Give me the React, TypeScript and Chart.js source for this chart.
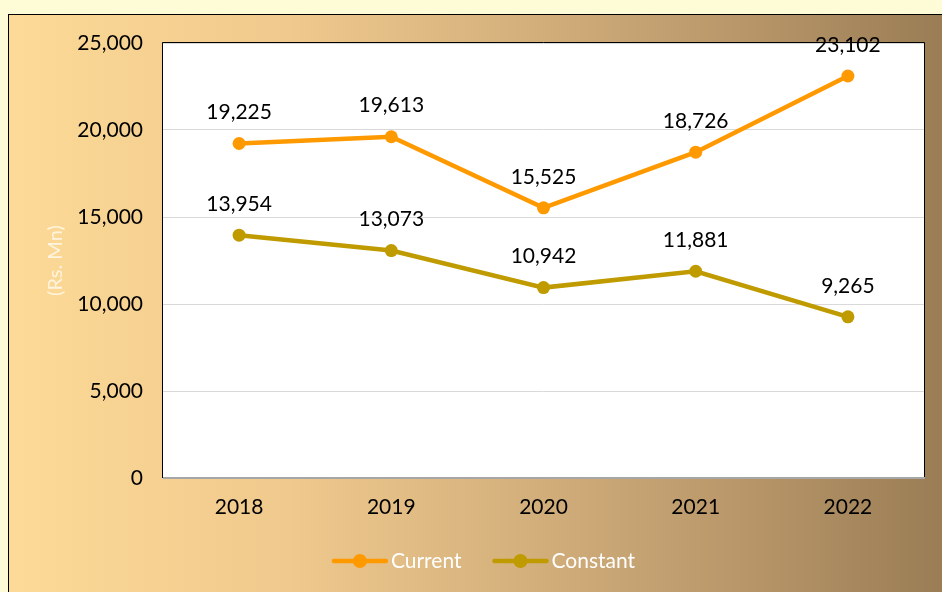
import React, { useEffect, useRef } from 'react';
import { Chart, registerables } from 'chart.js';

Chart.register(...registerables);

const categories = ['2018', '2019', '2020', '2021', '2022'];
const currentValues = [19225, 19613, 15525, 18726, 23102];
const constantValues = [13954, 13073, 10942, 11881, 9265];
const seriesNames = ['Current', 'Constant'];
const seriesColors = ['#FF9900', '#BF9B00'];
const yMin = 0;
const yMax = 25000;
const yStep = 5000;
const yTitle = '(Rs. Mn)';

const FONT = 'Lato';
const fmt = (v: number) => Math.round(v).toLocaleString('en-US');

const plotBg = {
  id: 'plotBg',
  beforeDraw(chart: any) {
    const { ctx, chartArea: a } = chart;
    ctx.save();
    ctx.fillStyle = '#FFFFFF';
    ctx.fillRect(a.left, a.top, a.right - a.left, a.bottom - a.top);
    ctx.restore();
  },
  beforeDatasetsDraw(chart: any) {
    const { ctx, chartArea: a } = chart;
    ctx.save();
    ctx.lineWidth = 1;
    ctx.strokeStyle = '#000000';
    ctx.beginPath();
    ctx.moveTo(a.left - 0.5, a.bottom);
    ctx.lineTo(a.left - 0.5, a.top - 0.5);
    ctx.lineTo(a.right + 0.5, a.top - 0.5);
    ctx.lineTo(a.right + 0.5, a.bottom);
    ctx.stroke();
    ctx.strokeStyle = '#A6A6A6';
    ctx.lineWidth = 2;
    ctx.beginPath();
    ctx.moveTo(a.left, a.bottom);
    ctx.lineTo(a.right + 1, a.bottom);
    ctx.stroke();
    ctx.restore();
  },
};

const dataLabels = {
  id: 'dataLabels',
  afterDatasetsDraw(chart: any) {
    const { ctx } = chart;
    ctx.save();
    ctx.font = `21px ${FONT}`;
    ctx.fillStyle = '#000000';
    ctx.textAlign = 'center';
    ctx.textBaseline = 'middle';
    chart.data.datasets.forEach((ds: any, i: number) => {
      const meta = chart.getDatasetMeta(i);
      meta.data.forEach((pt: any, j: number) => {
        ctx.fillText(fmt(ds.data[j]), pt.x, pt.y - 31);
      });
    });
    ctx.restore();
  },
};

const lineLegend = {
  id: 'lineLegend',
  afterDraw(chart: any) {
    const { ctx } = chart;
    const lineW = 56;
    const textGap = 3;
    const itemGap = 31;
    ctx.save();
    ctx.font = `21px ${FONT}`;
    const items = chart.data.datasets.map((ds: any) => ({
      label: ds.label,
      color: ds.borderColor,
      tw: ctx.measureText(ds.label).width,
    }));
    const total = items.reduce((s: number, it: any) => s + lineW + textGap + it.tw, 0) + itemGap * (items.length - 1);
    let x = chart.width / 2 + 8 - total / 2;
    const y = 546;
    items.forEach((it: any) => {
      ctx.strokeStyle = it.color;
      ctx.lineWidth = 4.5;
      ctx.lineCap = 'round';
      ctx.beginPath();
      ctx.moveTo(x + 2, y);
      ctx.lineTo(x + lineW - 2, y);
      ctx.stroke();
      ctx.fillStyle = it.color;
      ctx.beginPath();
      ctx.arc(x + lineW / 2, y, 7, 0, Math.PI * 2);
      ctx.fill();
      ctx.fillStyle = '#FFFFFF';
      ctx.textAlign = 'left';
      ctx.textBaseline = 'middle';
      ctx.fillText(it.label, x + lineW + textGap, y);
      x += lineW + textGap + it.tw + itemGap;
    });
    ctx.restore();
  },
};

export default function App() {
  const ref = useRef<HTMLCanvasElement | null>(null);

  useEffect(() => {
    if (!ref.current) return;
    const chart = new Chart(ref.current, {
      type: 'line',
      data: {
        labels: categories,
        datasets: [
          {
            label: seriesNames[0],
            data: currentValues,
            borderColor: seriesColors[0],
            backgroundColor: seriesColors[0],
            borderWidth: 4.5,
            pointRadius: 6.5,
            pointBorderWidth: 0,
            tension: 0,
          },
          {
            label: seriesNames[1],
            data: constantValues,
            borderColor: seriesColors[1],
            backgroundColor: seriesColors[1],
            borderWidth: 4.5,
            pointRadius: 6.5,
            pointBorderWidth: 0,
            tension: 0,
          },
        ],
      },
      options: {
        responsive: false,
        animation: false,
        devicePixelRatio: 1,
        layout: { padding: { top: 28, right: 18, left: 0, bottom: 0 } },
        plugins: {
          legend: { display: false },
          tooltip: { enabled: false },
        },
        scales: {
          x: {
            offset: true,
            grid: { display: false, drawTicks: false },
            border: { display: false },
            ticks: { color: '#000000', font: { family: FONT, size: 21 }, padding: 17 },
            afterFit: (s: any) => { s.height = 114; s.paddingLeft = 0; s.paddingRight = 0; },
          },
          y: {
            min: yMin,
            max: yMax,
            grid: { color: '#D9D9D9', lineWidth: 1, drawTicks: false },
            border: { display: false },
            ticks: {
              stepSize: yStep,
              color: '#000000',
              font: { family: FONT, size: 21 },
              padding: 20,
              callback: (v: any) => fmt(Number(v)),
            },
            title: {
              display: true,
              text: yTitle,
              color: '#FFF4DE',
              font: { family: FONT, size: 20 },
              padding: { top: 35, bottom: 0 },
            },
            afterFit: (s: any) => { s.width = 154; s.paddingTop = 0; s.paddingBottom = 0; },
          },
        },
      },
      plugins: [plotBg, dataLabels, lineLegend],
    });
    return () => chart.destroy();
  }, []);

  return (
    <div
      style={{
        position: 'fixed',
        inset: 0,
        background: '#FEFCD6',
      }}
    >
      <div
        style={{
          position: 'fixed',
          left: 8,
          top: 14,
          width: 934,
          height: 578,
          boxSizing: 'border-box',
          borderLeft: '1px solid #000',
          borderTop: '1px solid #000',
          background: 'linear-gradient(to right, #FDDA97 0%, #EFC98D 30%, #D4B07C 55%, #B9976A 78%, #9A7D55 100%)',
          overflow: 'hidden',
        }}
      >
        <canvas ref={ref} width={933} height={577} style={{ display: 'block', width: 933, height: 577 }} />
      </div>
    </div>
  );
}
